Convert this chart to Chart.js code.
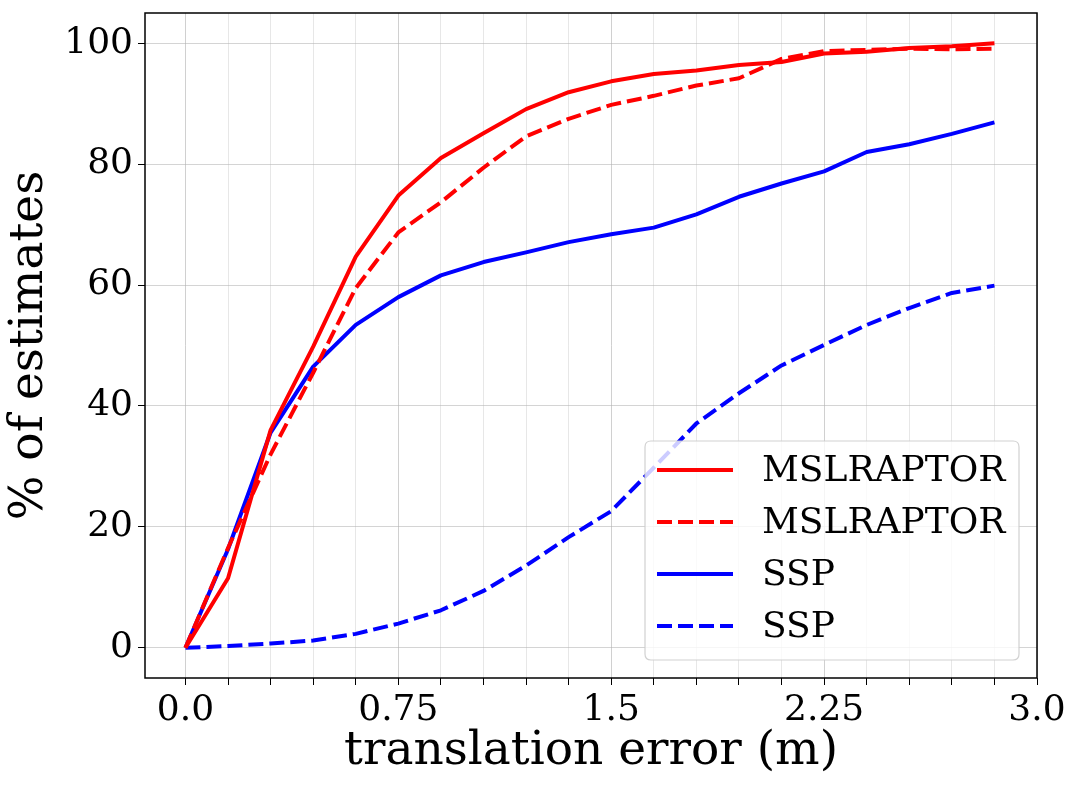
<!DOCTYPE html>
<html>
<head>
<meta charset="utf-8">
<script src="https://cdn.jsdelivr.net/npm/chart.js@4"></script>
<style>
html,body{margin:0;padding:0;background:#fff;}
#wrap{width:1077px;height:786px;position:relative;}
</style>
</head>
<body>
<div id="wrap"><canvas id="c" width="1077" height="786"></canvas></div>
<script>
const xValues = [0, 0.15, 0.3, 0.45, 0.6, 0.75, 0.9, 1.05, 1.2, 1.35, 1.5, 1.65, 1.8, 1.95, 2.1, 2.25, 2.4, 2.55, 2.7, 2.85];
const mslSolid = [0, 11.5, 36.0, 49.8, 64.7, 74.8, 81.0, 85.1, 89.1, 91.9, 93.7, 94.9, 95.5, 96.4, 96.9, 98.3, 98.6, 99.2, 99.5, 100.0];
const mslDashed = [0, 16.5, 32.0, 45.5, 59.5, 68.7, 73.7, 79.4, 84.6, 87.5, 89.8, 91.3, 93.0, 94.2, 97.4, 98.7, 98.9, 99.1, 99.0, 99.1];
const sspSolid = [0, 16.3, 35.6, 46.5, 53.4, 58.0, 61.6, 63.8, 65.4, 67.1, 68.4, 69.5, 71.7, 74.6, 76.8, 78.8, 82.0, 83.3, 85.0, 86.9];
const sspDashed = [0, 0.3, 0.7, 1.2, 2.3, 4.0, 6.2, 9.4, 13.6, 18.3, 22.6, 29.8, 37.1, 42.1, 46.7, 50.1, 53.4, 56.2, 58.7, 59.9];
const seriesLabels = ["MSLRAPTOR", "MSLRAPTOR", "SSP", "SSP"];
const xTickValues = [0, 0.15, 0.3, 0.45, 0.6, 0.75, 0.9, 1.05, 1.2, 1.35, 1.5, 1.65, 1.8, 1.95, 2.1, 2.25, 2.4, 2.55, 2.7, 2.85, 3.0];
const xMajorLabels = {"0": "0.0", "0.75": "0.75", "1.5": "1.5", "2.25": "2.25", "3": "3.0"};
const yTickValues = [0, 20, 40, 60, 80, 100];

const FONT = "'DejaVu Serif', serif";
const DASH = [15, 6];
const LW = 4;

function pts(ys){ return xValues.map((x,i)=>({x:x,y:ys[i]})); }
function isMajor(v){ return xMajorLabels.hasOwnProperty(String(+v.toFixed(4))); }

const frameAndLegend = {
  id: 'frameAndLegend',
  afterDatasetsDraw(chart){
    const ctx = chart.ctx, a = chart.chartArea;
    ctx.save();
    const bx = 645, by = 441, bw = 374, bh = 219, r = 6;
    ctx.beginPath();
    ctx.moveTo(bx+r,by); ctx.lineTo(bx+bw-r,by); ctx.quadraticCurveTo(bx+bw,by,bx+bw,by+r);
    ctx.lineTo(bx+bw,by+bh-r); ctx.quadraticCurveTo(bx+bw,by+bh,bx+bw-r,by+bh);
    ctx.lineTo(bx+r,by+bh); ctx.quadraticCurveTo(bx,by+bh,bx,by+bh-r);
    ctx.lineTo(bx,by+r); ctx.quadraticCurveTo(bx,by,bx+r,by);
    ctx.closePath();
    ctx.fillStyle = 'rgba(255,255,255,0.8)';
    ctx.fill();
    ctx.strokeStyle = 'rgba(204,204,204,0.9)';
    ctx.lineWidth = 1.2;
    ctx.stroke();
    const rows = [470, 522, 574, 626];
    chart.data.datasets.forEach((ds,i)=>{
      ctx.beginPath();
      ctx.strokeStyle = ds.borderColor;
      ctx.lineWidth = ds.borderWidth;
      ctx.setLineDash(ds.borderDash || []);
      ctx.moveTo(657, rows[i]); ctx.lineTo(733, rows[i]);
      ctx.stroke();
      ctx.setLineDash([]);
      ctx.fillStyle = '#000';
      ctx.font = "36px " + FONT;
      ctx.textBaseline = 'middle';
      ctx.textAlign = 'left';
      ctx.fillText(ds.label, 762, rows[i]+2);
    });
    ctx.strokeStyle = '#000';
    ctx.lineWidth = 1.5;
    ctx.strokeRect(a.left, a.top, a.right-a.left, a.bottom-a.top);
    ctx.restore();
  }
};

new Chart(document.getElementById('c'), {
  type: 'line',
  data: {
    datasets: [
      {label: seriesLabels[0], data: pts(mslSolid), borderColor: '#ff0000', borderWidth: LW},
      {label: seriesLabels[1], data: pts(mslDashed), borderColor: '#ff0000', borderWidth: LW, borderDash: DASH},
      {label: seriesLabels[2], data: pts(sspSolid), borderColor: '#0000ff', borderWidth: LW},
      {label: seriesLabels[3], data: pts(sspDashed), borderColor: '#0000ff', borderWidth: LW, borderDash: DASH}
    ]
  },
  options: {
    responsive: false,
    animation: false,
    devicePixelRatio: 1,
    layout: {padding: {top: 13, right: 40, left: 0, bottom: 0}},
    elements: {point: {radius: 0}, line: {tension: 0, borderJoinStyle: 'round', borderCapStyle: 'butt'}},
    plugins: {legend: {display: false}, tooltip: {enabled: false}},
    scales: {
      x: {
        type: 'linear', min: -0.1425, max: 3.0,
        afterBuildTicks: s => { s.ticks = xTickValues.map(v=>({value:v})); },
        afterFit: s => { s.height = 108; s.paddingLeft = 0; s.paddingRight = 0; },
        ticks: {
          autoSkip: false, maxRotation: 0, padding: 4,
          color: '#000', font: {family: FONT, size: 36},
          callback: v => { const k = String(+(+v).toFixed(4)); return xMajorLabels[k] || ''; }
        },
        grid: {
          color: c => isMajor(c.tick.value) ? 'rgba(176,176,176,0.6)' : 'rgba(176,176,176,0.3)',
          lineWidth: 1, tickLength: 7, tickColor: '#000', drawTicks: true
        },
        border: {display: false},
        title: {display: true, text: 'translation error (m)', color: '#000', font: {family: FONT, size: 47, lineHeight: 1.2}, padding: {top: 0, bottom: 6}}
      },
      y: {
        type: 'linear', min: -5, max: 105,
        afterBuildTicks: s => { s.ticks = yTickValues.map(v=>({value:v})); },
        afterFit: s => { s.width = 145; s.paddingTop = 0; s.paddingBottom = 0; },
        ticks: {color: '#000', font: {family: FONT, size: 36}, padding: 5},
        grid: {color: 'rgba(176,176,176,0.55)', lineWidth: 1, tickLength: 7, tickColor: '#000'},
        border: {display: false},
        title: {display: true, text: '% of estimates', color: '#000', font: {family: FONT, size: 47, lineHeight: 1.2}, padding: {top: 2, bottom: 0}}
      }
    }
  },
  plugins: [frameAndLegend]
});
</script>
</body>
</html>
